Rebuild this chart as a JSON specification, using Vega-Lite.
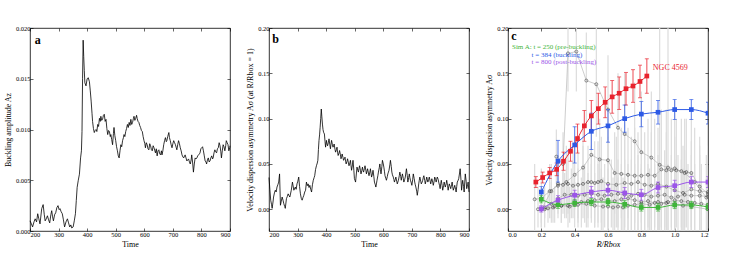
{
"$schema": "https://vega.github.io/schema/vega-lite/v6.json",
"padding": {"left": 3, "top": 24, "right": 0, "bottom": 2},
"background": "white",
"config": {
 "view": {"stroke": "black", "strokeWidth": 0.8},
 "font": "Liberation Serif",
 "axis": {"domain": false, "grid": false, "tickColor": "black", "tickSize": -3, "tickWidth": 0.6, "labelFont": "Liberation Serif", "labelFontSize": 6.5, "labelColor": "black", "labelPadding": 3, "titleFont": "Liberation Serif", "titleFontSize": 8, "titleFontWeight": "normal", "titleColor": "black", "titlePadding": 3}
},
"datasets": {
 "a": [
  {"t":200,"a":0.001},{"t":205,"a":0.0007},{"t":209,"a":0.0004},{"t":214,"a":0.0009},{"t":218,"a":0.0012},{"t":223,"a":0.0009},{"t":227,"a":0.0017},{"t":231,"a":0.0012},{"t":235,"a":0.0007},{"t":241,"a":0.0022},{"t":246,"a":0.0026},{"t":250,"a":0.0016},{"t":253,"a":0.001},{"t":257,"a":0.0012},{"t":261,"a":0.0015},{"t":265,"a":0.0011},{"t":269,"a":0.0008},{"t":273,"a":0.0016},{"t":276,"a":0.002},{"t":279,"a":0.0014},{"t":282,"a":0.001},{"t":286,"a":0.0016},{"t":290,"a":0.0018},{"t":294,"a":0.0023},{"t":298,"a":0.0025},{"t":302,"a":0.0021},{"t":305,"a":0.0022},{"t":309,"a":0.0019},{"t":313,"a":0.0017},{"t":317,"a":0.0011},{"t":321,"a":0.0004},{"t":326,"a":0.0009},{"t":331,"a":0.0012},{"t":335,"a":0.0008},{"t":339,"a":0.0004},{"t":343,"a":0.0006},{"t":346,"a":0.0003},{"t":351,"a":0.0004},{"t":355,"a":0.001},{"t":359,"a":0.0017},{"t":362,"a":0.003},{"t":365,"a":0.0043},{"t":369,"a":0.005},{"t":373,"a":0.0056},{"t":377,"a":0.0072},{"t":380,"a":0.0079},{"t":382,"a":0.0098},{"t":384,"a":0.015},{"t":386,"a":0.0188},{"t":388,"a":0.0172},{"t":390,"a":0.0158},{"t":392,"a":0.0146},{"t":396,"a":0.0143},{"t":400,"a":0.015},{"t":404,"a":0.0151},{"t":408,"a":0.0147},{"t":411,"a":0.0138},{"t":414,"a":0.0128},{"t":417,"a":0.0116},{"t":419,"a":0.0108},{"t":422,"a":0.0101},{"t":425,"a":0.0097},{"t":428,"a":0.0099},{"t":431,"a":0.01},{"t":434,"a":0.0098},{"t":437,"a":0.0105},{"t":440,"a":0.0103},{"t":443,"a":0.0111},{"t":446,"a":0.0108},{"t":448,"a":0.0113},{"t":451,"a":0.0109},{"t":454,"a":0.011},{"t":457,"a":0.0114},{"t":460,"a":0.0115},{"t":463,"a":0.0108},{"t":466,"a":0.011},{"t":469,"a":0.0101},{"t":472,"a":0.0095},{"t":475,"a":0.0099},{"t":478,"a":0.0098},{"t":481,"a":0.0093},{"t":483,"a":0.0095},{"t":486,"a":0.009},{"t":489,"a":0.0085},{"t":492,"a":0.0096},{"t":494,"a":0.0102},{"t":497,"a":0.0094},{"t":500,"a":0.0089},{"t":503,"a":0.0083},{"t":506,"a":0.0079},{"t":509,"a":0.0074},{"t":512,"a":0.0072},{"t":515,"a":0.0079},{"t":518,"a":0.0085},{"t":521,"a":0.0083},{"t":524,"a":0.0089},{"t":527,"a":0.0092},{"t":529,"a":0.0095},{"t":532,"a":0.0093},{"t":535,"a":0.0098},{"t":538,"a":0.0101},{"t":541,"a":0.0105},{"t":544,"a":0.0102},{"t":547,"a":0.0107},{"t":550,"a":0.0104},{"t":553,"a":0.011},{"t":556,"a":0.0105},{"t":559,"a":0.0107},{"t":562,"a":0.0111},{"t":564,"a":0.0113},{"t":567,"a":0.0109},{"t":570,"a":0.0111},{"t":573,"a":0.0114},{"t":575,"a":0.0111},{"t":578,"a":0.0108},{"t":581,"a":0.0107},{"t":584,"a":0.0104},{"t":587,"a":0.0102},{"t":590,"a":0.0099},{"t":593,"a":0.0098},{"t":596,"a":0.0093},{"t":599,"a":0.0089},{"t":602,"a":0.0086},{"t":604,"a":0.0082},{"t":607,"a":0.0087},{"t":610,"a":0.0085},{"t":613,"a":0.0081},{"t":616,"a":0.008},{"t":619,"a":0.0086},{"t":622,"a":0.0084},{"t":625,"a":0.008},{"t":628,"a":0.0079},{"t":631,"a":0.0084},{"t":634,"a":0.0082},{"t":637,"a":0.0079},{"t":639,"a":0.0077},{"t":642,"a":0.0081},{"t":645,"a":0.0074},{"t":648,"a":0.0079},{"t":651,"a":0.008},{"t":654,"a":0.0076},{"t":657,"a":0.0075},{"t":660,"a":0.0079},{"t":662,"a":0.0075},{"t":665,"a":0.0079},{"t":668,"a":0.0085},{"t":671,"a":0.0089},{"t":674,"a":0.0092},{"t":677,"a":0.0088},{"t":679,"a":0.0089},{"t":682,"a":0.0093},{"t":686,"a":0.0097},{"t":688,"a":0.0092},{"t":691,"a":0.0089},{"t":694,"a":0.0085},{"t":697,"a":0.0082},{"t":700,"a":0.0086},{"t":703,"a":0.0089},{"t":706,"a":0.0087},{"t":709,"a":0.0085},{"t":712,"a":0.0082},{"t":714,"a":0.008},{"t":717,"a":0.0085},{"t":720,"a":0.0089},{"t":723,"a":0.0086},{"t":726,"a":0.0082},{"t":729,"a":0.0079},{"t":732,"a":0.0075},{"t":735,"a":0.0073},{"t":738,"a":0.0072},{"t":741,"a":0.0074},{"t":743,"a":0.0075},{"t":746,"a":0.0072},{"t":749,"a":0.0069},{"t":752,"a":0.007},{"t":755,"a":0.0071},{"t":758,"a":0.0068},{"t":761,"a":0.0066},{"t":764,"a":0.007},{"t":766,"a":0.0075},{"t":769,"a":0.0068},{"t":772,"a":0.0058},{"t":775,"a":0.0066},{"t":778,"a":0.0072},{"t":781,"a":0.0071},{"t":784,"a":0.0072},{"t":787,"a":0.0074},{"t":790,"a":0.0075},{"t":793,"a":0.0076},{"t":795,"a":0.0077},{"t":798,"a":0.0081},{"t":801,"a":0.0082},{"t":804,"a":0.0083},{"t":807,"a":0.0079},{"t":810,"a":0.0074},{"t":813,"a":0.0069},{"t":816,"a":0.0068},{"t":818,"a":0.0066},{"t":821,"a":0.007},{"t":824,"a":0.0072},{"t":827,"a":0.0068},{"t":830,"a":0.0069},{"t":833,"a":0.0072},{"t":836,"a":0.0074},{"t":839,"a":0.0071},{"t":841,"a":0.0072},{"t":844,"a":0.0077},{"t":847,"a":0.008},{"t":850,"a":0.0078},{"t":853,"a":0.0077},{"t":856,"a":0.0081},{"t":859,"a":0.0082},{"t":862,"a":0.0087},{"t":865,"a":0.0084},{"t":868,"a":0.0078},{"t":870,"a":0.0072},{"t":873,"a":0.0079},{"t":876,"a":0.0085},{"t":879,"a":0.0083},{"t":882,"a":0.0079},{"t":885,"a":0.0084},{"t":887,"a":0.0089},{"t":890,"a":0.0087},{"t":893,"a":0.0085},{"t":896,"a":0.0079},{"t":899,"a":0.0082},{"t":900,"a":0.0084}
 ],
 "b": [
  {"t":200,"v":0.035},{"t":203,"v":0.022},{"t":206,"v":0.01},{"t":209,"v":0.005},{"t":211,"v":0.001},{"t":214,"v":0.008},{"t":216,"v":0.0135},{"t":219,"v":0.018},{"t":222,"v":0.021},{"t":225,"v":0.019},{"t":228,"v":0.0245},{"t":231,"v":0.027},{"t":234,"v":0.03},{"t":237,"v":0.039},{"t":240,"v":0.0044},{"t":243,"v":0.009},{"t":246,"v":0.0135},{"t":249,"v":0.01},{"t":252,"v":0.006},{"t":255,"v":0.003},{"t":257,"v":0.001},{"t":261,"v":0.0117},{"t":264,"v":0.014},{"t":267,"v":0.017},{"t":270,"v":0.015},{"t":273,"v":0.0135},{"t":278,"v":0.021},{"t":282,"v":0.03},{"t":287,"v":0.021},{"t":292,"v":0.0245},{"t":295,"v":0.022},{"t":298,"v":0.028},{"t":301,"v":0.031},{"t":304,"v":0.0355},{"t":307,"v":0.025},{"t":310,"v":0.017},{"t":313,"v":0.012},{"t":316,"v":0.01},{"t":319,"v":0.013},{"t":322,"v":0.0154},{"t":325,"v":0.019},{"t":328,"v":0.021},{"t":331,"v":0.03},{"t":334,"v":0.026},{"t":337,"v":0.028},{"t":340,"v":0.024},{"t":343,"v":0.0264},{"t":346,"v":0.022},{"t":349,"v":0.019},{"t":352,"v":0.027},{"t":355,"v":0.032},{"t":358,"v":0.035},{"t":360,"v":0.037},{"t":363,"v":0.044},{"t":366,"v":0.048},{"t":369,"v":0.051},{"t":371,"v":0.054},{"t":373,"v":0.066},{"t":375,"v":0.076},{"t":377,"v":0.082},{"t":379,"v":0.0905},{"t":381,"v":0.1},{"t":383,"v":0.1106},{"t":385,"v":0.102},{"t":387,"v":0.094},{"t":389,"v":0.088},{"t":391,"v":0.085},{"t":394,"v":0.083},{"t":396,"v":0.075},{"t":398,"v":0.0685},{"t":401,"v":0.076},{"t":403,"v":0.072},{"t":405,"v":0.07},{"t":408,"v":0.074},{"t":410,"v":0.0777},{"t":413,"v":0.071},{"t":415,"v":0.0667},{"t":417,"v":0.072},{"t":419,"v":0.076},{"t":422,"v":0.071},{"t":424,"v":0.0685},{"t":426,"v":0.07},{"t":428,"v":0.072},{"t":431,"v":0.066},{"t":433,"v":0.063},{"t":436,"v":0.066},{"t":438,"v":0.0685},{"t":440,"v":0.063},{"t":442,"v":0.0593},{"t":445,"v":0.062},{"t":447,"v":0.0648},{"t":450,"v":0.06},{"t":452,"v":0.0557},{"t":454,"v":0.058},{"t":456,"v":0.061},{"t":459,"v":0.057},{"t":461,"v":0.054},{"t":464,"v":0.056},{"t":466,"v":0.0575},{"t":468,"v":0.053},{"t":470,"v":0.05},{"t":473,"v":0.053},{"t":475,"v":0.0557},{"t":478,"v":0.051},{"t":480,"v":0.048},{"t":483,"v":0.051},{"t":485,"v":0.054},{"t":487,"v":0.048},{"t":489,"v":0.043},{"t":492,"v":0.049},{"t":494,"v":0.054},{"t":497,"v":0.043},{"t":499,"v":0.0337},{"t":501,"v":0.032},{"t":503,"v":0.03},{"t":506,"v":0.04},{"t":508,"v":0.0465},{"t":511,"v":0.043},{"t":513,"v":0.041},{"t":515,"v":0.045},{"t":517,"v":0.048},{"t":520,"v":0.043},{"t":522,"v":0.039},{"t":525,"v":0.043},{"t":527,"v":0.0465},{"t":529,"v":0.043},{"t":531,"v":0.041},{"t":534,"v":0.045},{"t":536,"v":0.048},{"t":539,"v":0.043},{"t":541,"v":0.039},{"t":543,"v":0.042},{"t":545,"v":0.0447},{"t":548,"v":0.04},{"t":550,"v":0.037},{"t":553,"v":0.041},{"t":555,"v":0.0447},{"t":557,"v":0.04},{"t":559,"v":0.0355},{"t":562,"v":0.039},{"t":564,"v":0.043},{"t":567,"v":0.036},{"t":569,"v":0.03},{"t":572,"v":0.027},{"t":574,"v":0.0245},{"t":576,"v":0.028},{"t":578,"v":0.032},{"t":581,"v":0.037},{"t":583,"v":0.041},{"t":586,"v":0.046},{"t":588,"v":0.05},{"t":590,"v":0.044},{"t":592,"v":0.039},{"t":595,"v":0.047},{"t":597,"v":0.054},{"t":600,"v":0.05},{"t":602,"v":0.0465},{"t":604,"v":0.042},{"t":606,"v":0.037},{"t":609,"v":0.034},{"t":611,"v":0.032},{"t":614,"v":0.036},{"t":616,"v":0.039},{"t":618,"v":0.041},{"t":620,"v":0.043},{"t":623,"v":0.049},{"t":625,"v":0.054},{"t":628,"v":0.047},{"t":630,"v":0.041},{"t":632,"v":0.038},{"t":635,"v":0.0355},{"t":637,"v":0.033},{"t":639,"v":0.03},{"t":642,"v":0.033},{"t":644,"v":0.0355},{"t":647,"v":0.031},{"t":649,"v":0.028},{"t":651,"v":0.03},{"t":653,"v":0.032},{"t":656,"v":0.037},{"t":658,"v":0.041},{"t":661,"v":0.036},{"t":663,"v":0.032},{"t":665,"v":0.036},{"t":667,"v":0.039},{"t":670,"v":0.034},{"t":672,"v":0.03},{"t":675,"v":0.033},{"t":677,"v":0.0355},{"t":679,"v":0.04},{"t":681,"v":0.0447},{"t":684,"v":0.037},{"t":686,"v":0.03},{"t":689,"v":0.035},{"t":691,"v":0.039},{"t":693,"v":0.035},{"t":695,"v":0.032},{"t":698,"v":0.029},{"t":700,"v":0.0264},{"t":703,"v":0.033},{"t":705,"v":0.039},{"t":708,"v":0.034},{"t":710,"v":0.03},{"t":712,"v":0.027},{"t":714,"v":0.0245},{"t":717,"v":0.02},{"t":719,"v":0.0154},{"t":722,"v":0.022},{"t":724,"v":0.028},{"t":726,"v":0.032},{"t":728,"v":0.0355},{"t":731,"v":0.031},{"t":733,"v":0.028},{"t":736,"v":0.03},{"t":738,"v":0.032},{"t":740,"v":0.035},{"t":742,"v":0.037},{"t":745,"v":0.032},{"t":747,"v":0.028},{"t":750,"v":0.032},{"t":752,"v":0.0355},{"t":754,"v":0.033},{"t":756,"v":0.03},{"t":759,"v":0.033},{"t":761,"v":0.0355},{"t":764,"v":0.031},{"t":766,"v":0.028},{"t":768,"v":0.031},{"t":770,"v":0.0337},{"t":773,"v":0.03},{"t":775,"v":0.0264},{"t":778,"v":0.031},{"t":780,"v":0.0355},{"t":783,"v":0.033},{"t":785,"v":0.03},{"t":787,"v":0.033},{"t":789,"v":0.0355},{"t":792,"v":0.033},{"t":794,"v":0.03},{"t":797,"v":0.026},{"t":799,"v":0.0227},{"t":801,"v":0.028},{"t":803,"v":0.032},{"t":806,"v":0.026},{"t":808,"v":0.021},{"t":811,"v":0.026},{"t":813,"v":0.03},{"t":815,"v":0.027},{"t":817,"v":0.0245},{"t":820,"v":0.028},{"t":822,"v":0.032},{"t":825,"v":0.026},{"t":827,"v":0.021},{"t":829,"v":0.025},{"t":831,"v":0.028},{"t":834,"v":0.025},{"t":836,"v":0.0227},{"t":839,"v":0.027},{"t":841,"v":0.03},{"t":843,"v":0.025},{"t":845,"v":0.021},{"t":848,"v":0.024},{"t":850,"v":0.0264},{"t":853,"v":0.022},{"t":855,"v":0.019},{"t":857,"v":0.025},{"t":859,"v":0.03},{"t":862,"v":0.032},{"t":864,"v":0.0337},{"t":867,"v":0.04},{"t":869,"v":0.0447},{"t":872,"v":0.032},{"t":874,"v":0.021},{"t":876,"v":0.027},{"t":878,"v":0.032},{"t":881,"v":0.025},{"t":883,"v":0.019},{"t":885,"v":0.029},{"t":887,"v":0.039},{"t":890,"v":0.031},{"t":892,"v":0.0227},{"t":895,"v":0.027},{"t":897,"v":0.03},{"t":899,"v":0.022},{"t":900,"v":0.019}
 ],
 "gray": [
  {"s":"g1","x":0.29,"y":0.058,"lo":0.028,"hi":0.088},{"s":"g1","x":0.33,"y":0.05,"lo":0.015,"hi":0.085},{"s":"g1","x":0.36,"y":0.172,"lo":0.13,"hi":0.21},{"s":"g1","x":0.41,"y":0.174,"lo":0.13,"hi":0.21},{"s":"g1","x":0.47,"y":0.142,"lo":0.09,"hi":0.195},{"s":"g1","x":0.53,"y":0.138,"lo":0.08,"hi":0.2},{"s":"g1","x":0.6,"y":0.11,"lo":0.05,"hi":0.17},{"s":"g1","x":0.66,"y":0.09,"lo":0.03,"hi":0.15},{"s":"g1","x":0.7,"y":0.083,"lo":0.02,"hi":0.15},{"s":"g1","x":0.76,"y":0.075,"lo":0.01,"hi":0.14},{"s":"g1","x":0.8,"y":0.063,"lo":0.0,"hi":0.13},{"s":"g1","x":0.86,"y":0.057,"lo":-0.01,"hi":0.13},{"s":"g1","x":0.91,"y":0.049,"lo":-0.03,"hi":0.21},{"s":"g1","x":0.96,"y":0.046,"lo":-0.03,"hi":0.21},{"s":"g1","x":1.0,"y":0.045,"lo":-0.02,"hi":0.12},{"s":"g1","x":1.06,"y":0.04,"lo":-0.02,"hi":0.1},{"s":"g1","x":1.12,"y":0.03,"lo":-0.03,"hi":0.09},{"s":"g1","x":1.19,"y":0.013,"lo":-0.03,"hi":0.06},
  {"s":"g2","x":0.16,"y":0.011,"lo":-0.03,"hi":0.05},{"s":"g2","x":0.2,"y":0.012,"lo":-0.02,"hi":0.045},{"s":"g2","x":0.25,"y":0.02,"lo":-0.01,"hi":0.05},{"s":"g2","x":0.3,"y":0.026,"lo":-0.005,"hi":0.06},{"s":"g2","x":0.35,"y":0.03,"lo":-0.01,"hi":0.07},{"s":"g2","x":0.4,"y":0.038,"lo":0.0,"hi":0.08},{"s":"g2","x":0.45,"y":0.046,"lo":0.005,"hi":0.09},{"s":"g2","x":0.5,"y":0.06,"lo":0.015,"hi":0.105},{"s":"g2","x":0.55,"y":0.055,"lo":0.01,"hi":0.1},{"s":"g2","x":0.6,"y":0.054,"lo":0.01,"hi":0.1},{"s":"g2","x":0.64,"y":0.04,"lo":-0.005,"hi":0.085},{"s":"g2","x":0.68,"y":0.039,"lo":-0.01,"hi":0.09},{"s":"g2","x":0.72,"y":0.038,"lo":-0.01,"hi":0.09},{"s":"g2","x":0.76,"y":0.037,"lo":-0.015,"hi":0.09},{"s":"g2","x":0.8,"y":0.037,"lo":-0.015,"hi":0.09},{"s":"g2","x":0.84,"y":0.038,"lo":-0.02,"hi":0.1},{"s":"g2","x":0.88,"y":0.037,"lo":-0.02,"hi":0.1},{"s":"g2","x":0.92,"y":0.044,"lo":-0.02,"hi":0.11},{"s":"g2","x":0.95,"y":0.043,"lo":-0.02,"hi":0.11},{"s":"g2","x":0.98,"y":0.043,"lo":-0.02,"hi":0.1},{"s":"g2","x":1.01,"y":0.043,"lo":-0.02,"hi":0.1},{"s":"g2","x":1.04,"y":0.042,"lo":-0.02,"hi":0.1},{"s":"g2","x":1.07,"y":0.041,"lo":-0.02,"hi":0.1},{"s":"g2","x":1.1,"y":0.04,"lo":-0.02,"hi":0.1},{"s":"g2","x":1.15,"y":0.025,"lo":-0.03,"hi":0.08},{"s":"g2","x":1.2,"y":0.017,"lo":-0.03,"hi":0.07},
  {"s":"g3","x":0.2,"y":0.0,"lo":-0.02,"hi":0.02},{"s":"g3","x":0.26,"y":0.02,"lo":-0.01,"hi":0.05},{"s":"g3","x":0.3,"y":0.028,"lo":0.0,"hi":0.06},{"s":"g3","x":0.33,"y":0.027,"lo":-0.005,"hi":0.06},{"s":"g3","x":0.36,"y":0.028,"lo":-0.005,"hi":0.065},{"s":"g3","x":0.39,"y":0.026,"lo":-0.01,"hi":0.065},{"s":"g3","x":0.42,"y":0.027,"lo":-0.01,"hi":0.065},{"s":"g3","x":0.45,"y":0.028,"lo":-0.01,"hi":0.07},{"s":"g3","x":0.48,"y":0.03,"lo":-0.01,"hi":0.07},{"s":"g3","x":0.5,"y":0.03,"lo":-0.01,"hi":0.07},{"s":"g3","x":0.52,"y":0.029,"lo":-0.015,"hi":0.075},{"s":"g3","x":0.54,"y":0.03,"lo":-0.015,"hi":0.075},{"s":"g3","x":0.56,"y":0.031,"lo":-0.015,"hi":0.08},{"s":"g3","x":0.6,"y":0.028,"lo":-0.02,"hi":0.08},{"s":"g3","x":0.65,"y":0.027,"lo":-0.02,"hi":0.08},{"s":"g3","x":0.7,"y":0.029,"lo":-0.02,"hi":0.08},{"s":"g3","x":0.74,"y":0.028,"lo":-0.025,"hi":0.08},{"s":"g3","x":0.78,"y":0.03,"lo":-0.025,"hi":0.085},{"s":"g3","x":0.82,"y":0.027,"lo":-0.03,"hi":0.085},{"s":"g3","x":0.86,"y":0.026,"lo":-0.03,"hi":0.085},{"s":"g3","x":0.9,"y":0.028,"lo":-0.03,"hi":0.09},{"s":"g3","x":0.95,"y":0.025,"lo":-0.03,"hi":0.085},{"s":"g3","x":1.0,"y":0.021,"lo":-0.03,"hi":0.08},{"s":"g3","x":1.05,"y":0.018,"lo":-0.03,"hi":0.07},{"s":"g3","x":1.1,"y":0.022,"lo":-0.03,"hi":0.075},{"s":"g3","x":1.15,"y":0.02,"lo":-0.03,"hi":0.07},{"s":"g3","x":1.2,"y":0.019,"lo":-0.03,"hi":0.07},
  {"s":"g4","x":0.18,"y":0.0,"lo":-0.02,"hi":0.025},{"s":"g4","x":0.22,"y":0.002,"lo":-0.02,"hi":0.025},{"s":"g4","x":0.26,"y":0.006,"lo":-0.015,"hi":0.03},{"s":"g4","x":0.3,"y":0.012,"lo":-0.01,"hi":0.035},{"s":"g4","x":0.34,"y":0.016,"lo":-0.01,"hi":0.04},{"s":"g4","x":0.38,"y":0.016,"lo":-0.01,"hi":0.045},{"s":"g4","x":0.42,"y":0.015,"lo":-0.015,"hi":0.045},{"s":"g4","x":0.46,"y":0.016,"lo":-0.015,"hi":0.05},{"s":"g4","x":0.5,"y":0.017,"lo":-0.015,"hi":0.05},{"s":"g4","x":0.54,"y":0.016,"lo":-0.02,"hi":0.05},{"s":"g4","x":0.58,"y":0.015,"lo":-0.02,"hi":0.05},{"s":"g4","x":0.62,"y":0.016,"lo":-0.02,"hi":0.055},{"s":"g4","x":0.66,"y":0.017,"lo":-0.02,"hi":0.055},{"s":"g4","x":0.7,"y":0.016,"lo":-0.025,"hi":0.055},{"s":"g4","x":0.74,"y":0.015,"lo":-0.025,"hi":0.055},{"s":"g4","x":0.78,"y":0.017,"lo":-0.025,"hi":0.06},{"s":"g4","x":0.82,"y":0.016,"lo":-0.025,"hi":0.06},{"s":"g4","x":0.86,"y":0.014,"lo":-0.03,"hi":0.06},{"s":"g4","x":0.9,"y":0.015,"lo":-0.03,"hi":0.06},{"s":"g4","x":0.94,"y":0.016,"lo":-0.03,"hi":0.065},{"s":"g4","x":0.98,"y":0.013,"lo":-0.03,"hi":0.06},{"s":"g4","x":1.02,"y":0.014,"lo":-0.03,"hi":0.06},{"s":"g4","x":1.06,"y":0.016,"lo":-0.03,"hi":0.065},{"s":"g4","x":1.1,"y":0.015,"lo":-0.03,"hi":0.06},{"s":"g4","x":1.15,"y":0.015,"lo":-0.03,"hi":0.06},{"s":"g4","x":1.2,"y":0.014,"lo":-0.03,"hi":0.06},
  {"s":"g5","x":0.2,"y":0.0,"lo":-0.015,"hi":0.015},{"s":"g5","x":0.24,"y":0.001,"lo":-0.015,"hi":0.02},{"s":"g5","x":0.28,"y":0.003,"lo":-0.015,"hi":0.025},{"s":"g5","x":0.32,"y":0.004,"lo":-0.015,"hi":0.025},{"s":"g5","x":0.36,"y":0.004,"lo":-0.02,"hi":0.03},{"s":"g5","x":0.4,"y":0.005,"lo":-0.02,"hi":0.03},{"s":"g5","x":0.44,"y":0.008,"lo":-0.02,"hi":0.035},{"s":"g5","x":0.48,"y":0.009,"lo":-0.02,"hi":0.04},{"s":"g5","x":0.52,"y":0.01,"lo":-0.02,"hi":0.04},{"s":"g5","x":0.56,"y":0.011,"lo":-0.025,"hi":0.045},{"s":"g5","x":0.6,"y":0.01,"lo":-0.025,"hi":0.045},{"s":"g5","x":0.64,"y":0.009,"lo":-0.025,"hi":0.045},{"s":"g5","x":0.68,"y":0.011,"lo":-0.025,"hi":0.05},{"s":"g5","x":0.72,"y":0.012,"lo":-0.025,"hi":0.05},{"s":"g5","x":0.76,"y":0.01,"lo":-0.03,"hi":0.05},{"s":"g5","x":0.8,"y":0.008,"lo":-0.03,"hi":0.05},{"s":"g5","x":0.84,"y":0.009,"lo":-0.03,"hi":0.05},{"s":"g5","x":0.88,"y":0.007,"lo":-0.03,"hi":0.05},{"s":"g5","x":0.92,"y":0.006,"lo":-0.03,"hi":0.05},{"s":"g5","x":0.96,"y":0.008,"lo":-0.03,"hi":0.05},{"s":"g5","x":1.0,"y":0.01,"lo":-0.03,"hi":0.055},{"s":"g5","x":1.04,"y":0.009,"lo":-0.03,"hi":0.055},{"s":"g5","x":1.08,"y":0.008,"lo":-0.03,"hi":0.05},{"s":"g5","x":1.12,"y":0.007,"lo":-0.03,"hi":0.05},{"s":"g5","x":1.16,"y":0.006,"lo":-0.03,"hi":0.05},{"s":"g5","x":1.2,"y":0.005,"lo":-0.03,"hi":0.05},
  {"s":"g6","x":0.22,"y":0.0,"lo":-0.01,"hi":0.01},{"s":"g6","x":0.27,"y":0.002,"lo":-0.015,"hi":0.02},{"s":"g6","x":0.32,"y":0.004,"lo":-0.015,"hi":0.025},{"s":"g6","x":0.37,"y":0.003,"lo":-0.015,"hi":0.025},{"s":"g6","x":0.42,"y":0.005,"lo":-0.02,"hi":0.03},{"s":"g6","x":0.47,"y":0.006,"lo":-0.02,"hi":0.03},{"s":"g6","x":0.52,"y":0.004,"lo":-0.02,"hi":0.03},{"s":"g6","x":0.57,"y":0.003,"lo":-0.025,"hi":0.035},{"s":"g6","x":0.6,"y":0.003,"lo":-0.025,"hi":0.035},{"s":"g6","x":0.63,"y":0.002,"lo":-0.025,"hi":0.035},{"s":"g6","x":0.66,"y":0.003,"lo":-0.025,"hi":0.035},{"s":"g6","x":0.69,"y":0.002,"lo":-0.025,"hi":0.035},{"s":"g6","x":0.72,"y":0.004,"lo":-0.03,"hi":0.04},{"s":"g6","x":0.76,"y":0.005,"lo":-0.03,"hi":0.04},{"s":"g6","x":0.8,"y":0.006,"lo":-0.03,"hi":0.045},{"s":"g6","x":0.85,"y":0.005,"lo":-0.03,"hi":0.045},{"s":"g6","x":0.9,"y":0.008,"lo":-0.03,"hi":0.05},{"s":"g6","x":0.95,"y":0.007,"lo":-0.03,"hi":0.05},{"s":"g6","x":1.0,"y":0.006,"lo":-0.03,"hi":0.05},{"s":"g6","x":1.05,"y":0.004,"lo":-0.03,"hi":0.045},{"s":"g6","x":1.1,"y":0.003,"lo":-0.03,"hi":0.04},{"s":"g6","x":1.2,"y":0.0,"lo":-0.03,"hi":0.035}
 ],
 "col": [
  {"s":"NGC 4569","x":0.167,"y":0.030,"lo":0.024,"hi":0.036},{"s":"NGC 4569","x":0.208,"y":0.035,"lo":0.029,"hi":0.041},{"s":"NGC 4569","x":0.25,"y":0.040,"lo":0.034,"hi":0.046},{"s":"NGC 4569","x":0.292,"y":0.044,"lo":0.037,"hi":0.051},{"s":"NGC 4569","x":0.333,"y":0.053,"lo":0.043,"hi":0.063},{"s":"NGC 4569","x":0.375,"y":0.064,"lo":0.053,"hi":0.075},{"s":"NGC 4569","x":0.417,"y":0.078,"lo":0.062,"hi":0.094},{"s":"NGC 4569","x":0.458,"y":0.092,"lo":0.075,"hi":0.109},{"s":"NGC 4569","x":0.5,"y":0.103,"lo":0.086,"hi":0.12},{"s":"NGC 4569","x":0.542,"y":0.111,"lo":0.094,"hi":0.128},{"s":"NGC 4569","x":0.583,"y":0.118,"lo":0.101,"hi":0.135},{"s":"NGC 4569","x":0.625,"y":0.124,"lo":0.106,"hi":0.142},{"s":"NGC 4569","x":0.667,"y":0.128,"lo":0.11,"hi":0.146},{"s":"NGC 4569","x":0.708,"y":0.133,"lo":0.115,"hi":0.151},{"s":"NGC 4569","x":0.75,"y":0.136,"lo":0.118,"hi":0.154},{"s":"NGC 4569","x":0.792,"y":0.141,"lo":0.123,"hi":0.159},{"s":"NGC 4569","x":0.833,"y":0.147,"lo":0.128,"hi":0.166},
  {"s":"t384","x":0.2,"y":0.019,"lo":0.013,"hi":0.025},{"s":"t384","x":0.3,"y":0.053,"lo":0.03,"hi":0.076},{"s":"t384","x":0.4,"y":0.071,"lo":0.051,"hi":0.091},{"s":"t384","x":0.5,"y":0.086,"lo":0.066,"hi":0.106},{"s":"t384","x":0.6,"y":0.092,"lo":0.074,"hi":0.11},{"s":"t384","x":0.7,"y":0.1,"lo":0.085,"hi":0.115},{"s":"t384","x":0.8,"y":0.105,"lo":0.091,"hi":0.119},{"s":"t384","x":0.9,"y":0.107,"lo":0.094,"hi":0.12},{"s":"t384","x":1.0,"y":0.11,"lo":0.099,"hi":0.121},{"s":"t384","x":1.1,"y":0.11,"lo":0.099,"hi":0.121},{"s":"t384","x":1.2,"y":0.106,"lo":0.094,"hi":0.118},
  {"s":"t250","x":0.2,"y":0.011,"lo":0.007,"hi":0.015},{"s":"t250","x":0.3,"y":0.005,"lo":0.001,"hi":0.009},{"s":"t250","x":0.4,"y":0.007,"lo":0.003,"hi":0.011},{"s":"t250","x":0.5,"y":0.008,"lo":0.004,"hi":0.012},{"s":"t250","x":0.6,"y":0.008,"lo":0.004,"hi":0.012},{"s":"t250","x":0.7,"y":0.0055,"lo":0.0015,"hi":0.0095},{"s":"t250","x":0.8,"y":0.002,"lo":-0.002,"hi":0.006},{"s":"t250","x":0.9,"y":0.002,"lo":-0.002,"hi":0.006},{"s":"t250","x":1.0,"y":0.0047,"lo":0.0007,"hi":0.0087},{"s":"t250","x":1.1,"y":0.0047,"lo":0.0007,"hi":0.0087},{"s":"t250","x":1.2,"y":0.0025,"lo":-0.0015,"hi":0.0065},
  {"s":"t800","x":0.2,"y":0.0005,"lo":-0.003,"hi":0.004},{"s":"t800","x":0.3,"y":0.01,"lo":0.005,"hi":0.015},{"s":"t800","x":0.4,"y":0.0155,"lo":0.01,"hi":0.021},{"s":"t800","x":0.5,"y":0.019,"lo":0.013,"hi":0.025},{"s":"t800","x":0.6,"y":0.021,"lo":0.015,"hi":0.027},{"s":"t800","x":0.7,"y":0.018,"lo":0.012,"hi":0.024},{"s":"t800","x":0.8,"y":0.016,"lo":0.01,"hi":0.022},{"s":"t800","x":0.9,"y":0.024,"lo":0.018,"hi":0.03},{"s":"t800","x":1.0,"y":0.026,"lo":0.02,"hi":0.032},{"s":"t800","x":1.1,"y":0.03,"lo":0.024,"hi":0.036},{"s":"t800","x":1.2,"y":0.03,"lo":0.024,"hi":0.036}
 ]
},
"bounds": "flush",
"spacing": 39,
"hconcat": [
 {
  "width": 200, "height": 203,
  "data": {"name": "a"},
  "layer": [
   {"mark": {"type": "line", "color": "black", "strokeWidth": 0.8},
    "encoding": {
     "x": {"field": "t", "type": "quantitative", "scale": {"domain": [200, 900], "nice": false, "zero": false}, "axis": {"title": "Time", "values": [200,300,400,500,600,700,800,900]}},
     "y": {"field": "a", "type": "quantitative", "scale": {"domain": [0, 0.02], "nice": false}, "axis": {"title": "Buckling amplitude Az", "values": [0,0.005,0.01,0.015,0.02], "format": ".3f"}}}},
   {"mark": {"type": "line", "opacity": 0},
    "encoding": {
     "x": {"field": "t", "type": "quantitative", "axis": {"orient": "top", "labels": false, "title": null, "values": [200,300,400,500,600,700,800,900]}},
     "y": {"field": "a", "type": "quantitative", "axis": {"orient": "right", "labels": false, "title": null, "values": [0,0.005,0.01,0.015,0.02]}}}},
   {"data": {"values": [{}]},
    "mark": {"type": "text", "text": "a", "font": "Liberation Serif", "fontWeight": "bold", "fontSize": 12, "color": "black", "align": "left", "baseline": "middle"},
    "encoding": {"x": {"datum": 217, "type": "quantitative", "axis": null}, "y": {"datum": 0.0188, "type": "quantitative", "axis": null}}}
  ],
  "resolve": {"axis": {"x": "independent", "y": "independent"}}
 },
 {
  "width": 200, "height": 203,
  "data": {"name": "b"},
  "layer": [
   {"mark": {"type": "line", "color": "black", "strokeWidth": 0.8},
    "encoding": {
     "x": {"field": "t", "type": "quantitative", "scale": {"domain": [200, 900], "nice": false, "zero": false}, "axis": {"title": "Time", "values": [200,300,400,500,600,700,800,900]}},
     "y": {"field": "v", "type": "quantitative", "scale": {"domain": [-0.024, 0.2], "nice": false}, "axis": {"title": "Velocity dispersion asymmetry Aσ (at R/Rbox = 1)", "values": [0,0.05,0.1,0.15,0.2], "format": ".2f"}}}},
   {"mark": {"type": "line", "opacity": 0},
    "encoding": {
     "x": {"field": "t", "type": "quantitative", "axis": {"orient": "top", "labels": false, "title": null, "values": [200,300,400,500,600,700,800,900]}},
     "y": {"field": "v", "type": "quantitative", "axis": {"orient": "right", "labels": false, "title": null, "values": [0,0.05,0.1,0.15,0.2]}}}},
   {"data": {"values": [{}]},
    "mark": {"type": "text", "text": "b", "font": "Liberation Serif", "fontWeight": "bold", "fontSize": 12, "color": "black", "align": "left", "baseline": "middle"},
    "encoding": {"x": {"datum": 211, "type": "quantitative", "axis": null}, "y": {"datum": 0.188, "type": "quantitative", "axis": null}}}
  ],
  "resolve": {"axis": {"x": "independent", "y": "independent"}}
 },
 {
  "width": 200, "height": 203,
  "layer": [
   {"data": {"name": "gray"},
    "mark": {"type": "rule", "color": "#dcdcdc", "strokeWidth": 1.2, "clip": true},
    "encoding": {
     "x": {"field": "x", "type": "quantitative", "scale": {"domain": [0, 1.2], "nice": false}, "axis": {"title": "R/Rbox", "titleFontStyle": "italic", "values": [0,0.2,0.4,0.6,0.8,1.0,1.2], "format": ".1f"}},
     "y": {"field": "lo", "type": "quantitative", "scale": {"domain": [-0.024, 0.2], "nice": false}, "axis": {"title": "Velocity dispersion asymmetry Aσ", "values": [0,0.05,0.1,0.15,0.2], "format": ".2f"}},
     "y2": {"field": "hi"}}},
   {"data": {"name": "gray"},
    "mark": {"type": "line", "color": "#b8b8b8", "strokeWidth": 0.7, "clip": true},
    "encoding": {
     "x": {"field": "x", "type": "quantitative", "axis": {"orient": "top", "labels": false, "title": null, "values": [0,0.2,0.4,0.6,0.8,1.0,1.2]}},
     "y": {"field": "y", "type": "quantitative", "axis": {"orient": "right", "labels": false, "title": null, "values": [0,0.05,0.1,0.15,0.2]}},
     "detail": {"field": "s"}}},
   {"data": {"name": "gray"},
    "mark": {"type": "point", "shape": "circle", "filled": false, "stroke": "#222", "strokeWidth": 0.7, "size": 9, "clip": true},
    "encoding": {
     "x": {"field": "x", "type": "quantitative", "axis": null},
     "y": {"field": "y", "type": "quantitative", "axis": null}}},
   {"data": {"name": "col"},
    "mark": {"type": "rule", "strokeWidth": 1.1, "opacity": 0.75, "clip": true},
    "encoding": {
     "x": {"field": "x", "type": "quantitative", "axis": null},
     "y": {"field": "lo", "type": "quantitative", "axis": null},
     "y2": {"field": "hi"},
     "color": {"field": "s", "type": "nominal", "scale": {"domain": ["NGC 4569", "t384", "t250", "t800"], "range": ["#e8232e", "#2d5ae6", "#3fb53a", "#9b55e8"]}, "legend": null}}},
   {"data": {"name": "col"},
    "mark": {"type": "tick", "orient": "horizontal", "size": 4, "thickness": 0.9, "opacity": 0.75, "clip": true},
    "encoding": {
     "x": {"field": "x", "type": "quantitative", "axis": null},
     "y": {"field": "lo", "type": "quantitative", "axis": null},
     "color": {"field": "s", "type": "nominal", "legend": null}}},
   {"data": {"name": "col"},
    "mark": {"type": "tick", "orient": "horizontal", "size": 4, "thickness": 0.9, "opacity": 0.75, "clip": true},
    "encoding": {
     "x": {"field": "x", "type": "quantitative", "axis": null},
     "y": {"field": "hi", "type": "quantitative", "axis": null},
     "color": {"field": "s", "type": "nominal", "legend": null}}},
   {"data": {"name": "col"},
    "mark": {"type": "line", "strokeWidth": 1, "interpolate": "monotone", "clip": true},
    "encoding": {
     "x": {"field": "x", "type": "quantitative", "axis": null},
     "y": {"field": "y", "type": "quantitative", "axis": null},
     "color": {"field": "s", "type": "nominal", "legend": null}}},
   {"data": {"name": "col"},
    "mark": {"type": "point", "shape": "square", "filled": true, "size": 22, "opacity": 1, "clip": true},
    "encoding": {
     "x": {"field": "x", "type": "quantitative", "axis": null},
     "y": {"field": "y", "type": "quantitative", "axis": null},
     "color": {"field": "s", "type": "nominal", "legend": null}}},
   {"data": {"values": [{}]},
    "mark": {"type": "text", "text": "c", "font": "Liberation Serif", "fontWeight": "bold", "fontSize": 12, "color": "black", "align": "left", "baseline": "middle"},
    "encoding": {"x": {"datum": 0.02, "type": "quantitative", "axis": null}, "y": {"datum": 0.191, "type": "quantitative", "axis": null}}},
   {"data": {"values": [{}]},
    "mark": {"type": "text", "text": "Sim A: t = 250 (pre-buckling)", "font": "Liberation Serif", "fontSize": 7, "color": "#3fb53a", "align": "left", "baseline": "middle"},
    "encoding": {"x": {"datum": 0.024, "type": "quantitative", "axis": null}, "y": {"datum": 0.1785, "type": "quantitative", "axis": null}}},
   {"data": {"values": [{}]},
    "mark": {"type": "text", "text": "t = 384 (buckling)", "font": "Liberation Serif", "fontSize": 7, "color": "#2d5ae6", "align": "left", "baseline": "middle"},
    "encoding": {"x": {"datum": 0.141, "type": "quantitative", "axis": null}, "y": {"datum": 0.1705, "type": "quantitative", "axis": null}}},
   {"data": {"values": [{}]},
    "mark": {"type": "text", "text": "t = 800 (post-buckling)", "font": "Liberation Serif", "fontSize": 7, "color": "#9b55e8", "align": "left", "baseline": "middle"},
    "encoding": {"x": {"datum": 0.141, "type": "quantitative", "axis": null}, "y": {"datum": 0.1625, "type": "quantitative", "axis": null}}},
   {"data": {"values": [{}]},
    "mark": {"type": "text", "text": "NGC 4569", "font": "Liberation Serif", "fontSize": 8, "color": "#e8232e", "align": "left", "baseline": "middle"},
    "encoding": {"x": {"datum": 0.869, "type": "quantitative", "axis": null}, "y": {"datum": 0.156, "type": "quantitative", "axis": null}}}
  ],
  "resolve": {"axis": {"x": "independent", "y": "independent"}}
 }
]
}
